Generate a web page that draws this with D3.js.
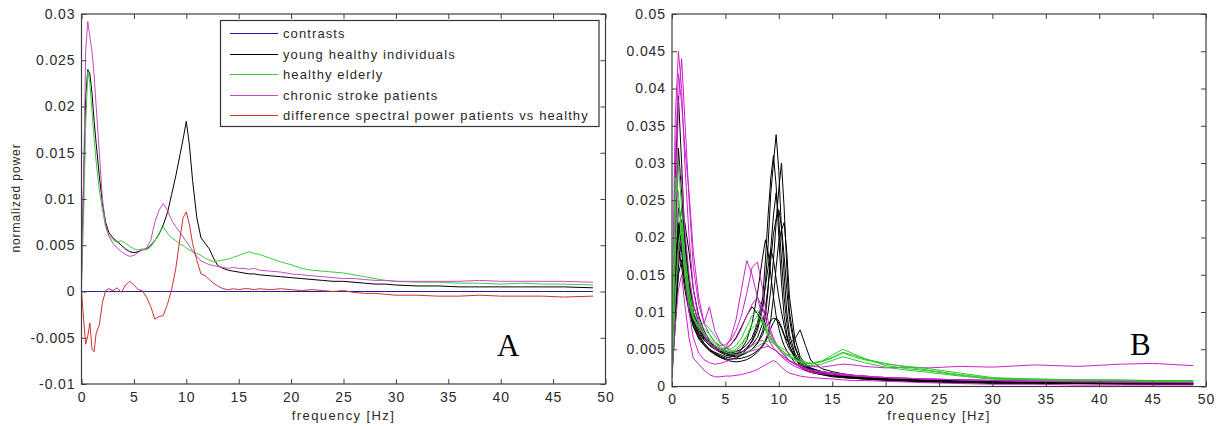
<!DOCTYPE html>
<html>
<head>
<meta charset="utf-8">
<script src="https://cdn.jsdelivr.net/npm/d3@7/dist/d3.min.js"></script>
<style>
  body { margin: 0; background: #fff; }
  svg { display: block; font-family: "Liberation Sans", Arial, sans-serif; }
</style>
</head>
<body>
<svg id="chart" width="1218" height="429"></svg>
<script>
// ---------- Panel A: group averages (normalized power vs frequency) ----------
const freqA = [0, 0.2, 0.4, 0.6, 0.8, 1.0, 1.2, 1.4, 1.7, 2.0, 2.3, 2.6, 3.0, 3.4, 3.8, 4.2, 4.6, 5.0, 5.4, 5.8,
  6.2, 6.6, 7.0, 7.4, 7.8, 8.2, 8.6, 9.0, 9.4, 9.7, 10.0, 10.3, 10.6, 11.0, 11.4, 11.8, 12.2, 12.6, 13.0, 13.5,
  14, 14.5, 15, 15.5, 16, 16.5, 17, 18, 19, 20, 21, 22, 23, 24, 25, 26, 27, 28, 29, 30,
  32, 34, 36, 38, 40, 42, 44, 46, 48.8];

const contrastsA = freqA.map(() => 0);

const youngA = [0.002, 0.012, 0.021, 0.0240, 0.0235, 0.0215, 0.0185, 0.0160, 0.0125, 0.0095, 0.0075, 0.0064, 0.0058, 0.0054, 0.0050, 0.0046, 0.0043, 0.0042, 0.0043, 0.0045,
  0.0046, 0.0050, 0.0055, 0.0062, 0.0072, 0.0085, 0.0105, 0.0125, 0.0148, 0.0165, 0.0184, 0.0158, 0.0120, 0.0080, 0.0058, 0.0052, 0.0046, 0.0036, 0.0028, 0.0025,
  0.0023, 0.0022, 0.0021, 0.0020, 0.0019, 0.0019, 0.0018, 0.0017, 0.0016, 0.0015, 0.0014, 0.0013, 0.0012, 0.0011, 0.0011, 0.0010, 0.0009, 0.0008, 0.0008, 0.0007,
  0.0006, 0.0006, 0.0005, 0.0005, 0.0005, 0.0005, 0.0005, 0.0005, 0.0004];

const elderlyA = [0.001, 0.008, 0.018, 0.0238, 0.0225, 0.0195, 0.0165, 0.0140, 0.0110, 0.0088, 0.0070, 0.0061, 0.0056, 0.0053, 0.0055, 0.0052, 0.0049, 0.0046, 0.0045, 0.0046,
  0.0045, 0.0048, 0.0055, 0.0063, 0.0070, 0.0063, 0.0058, 0.0055, 0.0051, 0.0050, 0.0047, 0.0045, 0.0043, 0.0041, 0.0039, 0.0036, 0.0034, 0.0032, 0.0033, 0.0034,
  0.0035, 0.0037, 0.0039, 0.0041, 0.0043, 0.0041, 0.0040, 0.0036, 0.0032, 0.0029, 0.0025, 0.0023, 0.0022, 0.0021, 0.0020, 0.0018, 0.0016, 0.0014, 0.0012, 0.0011,
  0.0010, 0.0010, 0.0009, 0.0009, 0.0008, 0.0009, 0.0008, 0.0008, 0.0007];

const strokeA = [0.0005, 0.012, 0.026, 0.0292, 0.0275, 0.0260, 0.0235, 0.0200, 0.0150, 0.0100, 0.0072, 0.0060, 0.0052, 0.0047, 0.0043, 0.0040, 0.0038, 0.0039, 0.0042, 0.0045,
  0.0047, 0.0055, 0.0075, 0.0088, 0.0095, 0.0088, 0.0077, 0.0070, 0.0064, 0.0059, 0.0054, 0.0049, 0.0044, 0.0038, 0.0033, 0.0031, 0.0029, 0.0028, 0.0027, 0.0026,
  0.0025, 0.0026, 0.0025, 0.0025, 0.0024, 0.0025, 0.0023, 0.0022, 0.0021, 0.0019, 0.0018, 0.0017, 0.0016, 0.0015, 0.0014, 0.0014, 0.0013, 0.0012, 0.0012, 0.0011,
  0.0011, 0.0011, 0.0011, 0.0012, 0.0011, 0.0011, 0.0011, 0.0011, 0.0010];

const differenceA = [0.0000, -0.0030, -0.0057, -0.0048, -0.0034, -0.0062, -0.0065, -0.0045, -0.0036, -0.0012, 0.0001, 0.0003, 0.0001, 0.0004, -0.0001, 0.0007, 0.0011, 0.0007, 0.0002, 0.0001,
  -0.0006, -0.0016, -0.0030, -0.0027, -0.0026, -0.0014, 0.0002, 0.0025, 0.0058, 0.0080, 0.0086, 0.0072, 0.0052, 0.0034, 0.0019, 0.0017, 0.0013, 0.0009, 0.0006, 0.0003,
  0.0002, 0.0003, 0.0002, 0.0003, 0.0003, 0.0002, 0.0003, 0.0002, 0.0003, 0.0002, 0.0001, 0.0002, 0.0001, 0.0000, 0.0001, -0.0001, -0.0002, -0.0002, -0.0003, -0.0004,
  -0.0004, -0.0005, -0.0005, -0.0004, -0.0005, -0.0005, -0.0005, -0.0006, -0.0005];

const legendLabels = ["contrasts", "young healthy individuals", "healthy elderly", "chronic stroke patients",
  "difference spectral power patients vs healthy"];

const xTicks = [0, 5, 10, 15, 20, 25, 30, 35, 40, 45, 50];
const xTickLabels = ["0", "5", "10", "15", "20", "25", "30", "35", "40", "45", "50"];
const yTicksA = [-0.01, -0.005, 0, 0.005, 0.01, 0.015, 0.02, 0.025, 0.03];
const yTickLabelsA = ["-0.01", "-0.005", "0", "0.005", "0.01", "0.015", "0.02", "0.025", "0.03"];

// ---------- Panel B: individual subjects ----------
const freqB = [0, 0.3, 0.6, 0.9, 1.2, 1.6, 2, 2.5, 3, 3.5, 4, 4.5, 5, 5.5, 6, 6.5, 7, 7.5, 8, 8.5,
  8.75, 9, 9.25, 9.5, 9.75, 10, 10.25, 10.5, 10.75, 11, 11.5, 12, 12.5, 13, 14, 15, 16, 17, 18, 20,
  22, 24, 27, 30, 34, 38, 42, 45, 48.8];

const youngB = [
  [0.004, 0.015, 0.024, 0.022, 0.018, 0.013, 0.010, 0.0078, 0.0065, 0.0058, 0.0052, 0.0047, 0.0044, 0.0042, 0.0043, 0.0046, 0.0052, 0.0060, 0.0075, 0.0105,
   0.0140, 0.0190, 0.0260, 0.0300, 0.0338, 0.0290, 0.0210, 0.0150, 0.0100, 0.0070, 0.0045, 0.0032, 0.0026, 0.0022, 0.0018, 0.0015, 0.0013, 0.0012, 0.0011, 0.0009,
   0.0008, 0.0007, 0.0006, 0.0005, 0.0005, 0.0004, 0.0004, 0.0004, 0.0004],
  [0.006, 0.028, 0.039, 0.030, 0.020, 0.014, 0.011, 0.0085, 0.0070, 0.0060, 0.0054, 0.0050, 0.0046, 0.0045, 0.0047, 0.0050, 0.0056, 0.0066, 0.0085, 0.0120,
   0.0170, 0.0230, 0.0280, 0.0310, 0.0270, 0.0200, 0.0140, 0.0095, 0.0070, 0.0055, 0.0038, 0.0028, 0.0022, 0.0019, 0.0016, 0.0013, 0.0012, 0.0011, 0.0010, 0.0008,
   0.0007, 0.0006, 0.0005, 0.0004, 0.0004, 0.0004, 0.0003, 0.0003, 0.0003],
  [0.003, 0.020, 0.032, 0.026, 0.019, 0.013, 0.0095, 0.0075, 0.0063, 0.0055, 0.0050, 0.0046, 0.0042, 0.0041, 0.0040, 0.0042, 0.0045, 0.0050, 0.0058, 0.0070,
   0.0082, 0.0100, 0.0130, 0.0170, 0.0220, 0.0265, 0.0300, 0.0240, 0.0160, 0.0100, 0.0055, 0.0035, 0.0027, 0.0023, 0.0019, 0.0016, 0.0014, 0.0012, 0.0011, 0.0009,
   0.0008, 0.0007, 0.0006, 0.0005, 0.0004, 0.0004, 0.0004, 0.0003, 0.0003],
  [0.002, 0.008, 0.016, 0.020, 0.022, 0.018, 0.013, 0.0095, 0.0075, 0.0062, 0.0055, 0.0050, 0.0047, 0.0045, 0.0044, 0.0046, 0.0050, 0.0056, 0.0066, 0.0085,
   0.0105, 0.0135, 0.0170, 0.0205, 0.0225, 0.0237, 0.0215, 0.0175, 0.0130, 0.0090, 0.0052, 0.0036, 0.0029, 0.0024, 0.0020, 0.0017, 0.0015, 0.0013, 0.0012, 0.0010,
   0.0009, 0.0008, 0.0007, 0.0006, 0.0005, 0.0005, 0.0004, 0.0004, 0.0004],
  [0.003, 0.014, 0.021, 0.019, 0.015, 0.011, 0.0085, 0.0068, 0.0058, 0.0050, 0.0045, 0.0041, 0.0038, 0.0040, 0.0043, 0.0050, 0.0062, 0.0085, 0.0125, 0.0175,
   0.0197, 0.0180, 0.0150, 0.0120, 0.0095, 0.0078, 0.0065, 0.0055, 0.0048, 0.0042, 0.0032, 0.0026, 0.0022, 0.0019, 0.0016, 0.0014, 0.0012, 0.0011, 0.0010, 0.0009,
   0.0008, 0.0007, 0.0006, 0.0005, 0.0005, 0.0004, 0.0004, 0.0004, 0.0003],
  [0.002, 0.010, 0.018, 0.021, 0.017, 0.012, 0.0090, 0.0070, 0.0058, 0.0050, 0.0046, 0.0043, 0.0040, 0.0038, 0.0037, 0.0038, 0.0040, 0.0043, 0.0048, 0.0056,
   0.0062, 0.0072, 0.0090, 0.0120, 0.0160, 0.0195, 0.0210, 0.0220, 0.0180, 0.0120, 0.0065, 0.0040, 0.0030, 0.0025, 0.0020, 0.0017, 0.0015, 0.0013, 0.0012, 0.0010,
   0.0009, 0.0008, 0.0007, 0.0006, 0.0005, 0.0005, 0.0004, 0.0004, 0.0004],
  [0.002, 0.009, 0.015, 0.017, 0.014, 0.011, 0.0088, 0.0072, 0.0062, 0.0056, 0.0052, 0.0049, 0.0050, 0.0056, 0.0066, 0.0080, 0.0095, 0.0107, 0.0098, 0.0085,
   0.0080, 0.0083, 0.0088, 0.0092, 0.0090, 0.0085, 0.0078, 0.0068, 0.0058, 0.0050, 0.0040, 0.0033, 0.0028, 0.0024, 0.0020, 0.0018, 0.0016, 0.0014, 0.0013, 0.0011,
   0.0010, 0.0009, 0.0008, 0.0007, 0.0006, 0.0006, 0.0005, 0.0005, 0.0005],
  [0.003, 0.012, 0.019, 0.016, 0.013, 0.010, 0.0080, 0.0064, 0.0055, 0.0048, 0.0043, 0.0039, 0.0036, 0.0034, 0.0033, 0.0034, 0.0036, 0.0040, 0.0046, 0.0054,
   0.0060, 0.0068, 0.0078, 0.0086, 0.0092, 0.0088, 0.0080, 0.0070, 0.0062, 0.0058, 0.0064, 0.0076, 0.0055, 0.0035, 0.0024, 0.0020, 0.0017, 0.0015, 0.0013, 0.0011,
   0.0010, 0.0009, 0.0008, 0.0007, 0.0006, 0.0005, 0.0005, 0.0005, 0.0004],
  [0.002, 0.011, 0.020, 0.024, 0.020, 0.014, 0.010, 0.0080, 0.0066, 0.0058, 0.0052, 0.0048, 0.0045, 0.0043, 0.0042, 0.0043, 0.0046, 0.0050, 0.0058, 0.0075,
   0.0095, 0.0130, 0.0185, 0.0230, 0.0260, 0.0225, 0.0170, 0.0120, 0.0085, 0.0062, 0.0042, 0.0030, 0.0024, 0.0021, 0.0018, 0.0015, 0.0013, 0.0012, 0.0011, 0.0009,
   0.0008, 0.0007, 0.0006, 0.0005, 0.0004, 0.0004, 0.0004, 0.0003, 0.0003],
  [0.003, 0.013, 0.022, 0.018, 0.014, 0.0105, 0.0082, 0.0066, 0.0056, 0.0049, 0.0044, 0.0040, 0.0037, 0.0036, 0.0038, 0.0042, 0.0050, 0.0062, 0.0080, 0.0110,
   0.0135, 0.0160, 0.0185, 0.0170, 0.0145, 0.0120, 0.0100, 0.0082, 0.0066, 0.0054, 0.0040, 0.0030, 0.0025, 0.0021, 0.0017, 0.0015, 0.0013, 0.0012, 0.0011, 0.0009,
   0.0008, 0.0007, 0.0006, 0.0005, 0.0004, 0.0004, 0.0004, 0.0003, 0.0003]
];

const elderlyB = [
  [0.004, 0.028, 0.026, 0.020, 0.015, 0.011, 0.0090, 0.0080, 0.0085, 0.0078, 0.0068, 0.0058, 0.0052, 0.0050, 0.0055, 0.0065, 0.0080, 0.0095, 0.0102, 0.0088,
   0.0078, 0.0070, 0.0064, 0.0060, 0.0057, 0.0054, 0.0052, 0.0050, 0.0047, 0.0044, 0.0040, 0.0036, 0.0033, 0.0031, 0.0034, 0.0042, 0.0050, 0.0044, 0.0038, 0.0028,
   0.0024, 0.0021, 0.0015, 0.0010, 0.0009, 0.0008, 0.0008, 0.0008, 0.0007],
  [0.002, 0.012, 0.019, 0.022, 0.017, 0.012, 0.0095, 0.0080, 0.0072, 0.0065, 0.0058, 0.0052, 0.0048, 0.0046, 0.0048, 0.0055, 0.0068, 0.0085, 0.0095, 0.0085,
   0.0076, 0.0068, 0.0062, 0.0058, 0.0055, 0.0052, 0.0049, 0.0046, 0.0043, 0.0040, 0.0036, 0.0033, 0.0031, 0.0030, 0.0033, 0.0038, 0.0045, 0.0040, 0.0036, 0.0030,
   0.0027, 0.0024, 0.0018, 0.0012, 0.0010, 0.0009, 0.0009, 0.0008, 0.0008],
  [0.003, 0.018, 0.025, 0.021, 0.016, 0.012, 0.0092, 0.0078, 0.0070, 0.0062, 0.0055, 0.0050, 0.0046, 0.0044, 0.0043, 0.0044, 0.0046, 0.0050, 0.0054, 0.0058,
   0.0060, 0.0061, 0.0060, 0.0058, 0.0055, 0.0052, 0.0049, 0.0046, 0.0043, 0.0041, 0.0037, 0.0034, 0.0032, 0.0031, 0.0034, 0.0039, 0.0046, 0.0042, 0.0037, 0.0031,
   0.0026, 0.0022, 0.0016, 0.0011, 0.0010, 0.0009, 0.0008, 0.0008, 0.0008],
  [0.005, 0.024, 0.030, 0.024, 0.018, 0.013, 0.010, 0.0085, 0.0078, 0.0070, 0.0060, 0.0053, 0.0049, 0.0047, 0.0050, 0.0058, 0.0068, 0.0078, 0.0085, 0.0088,
   0.0082, 0.0074, 0.0066, 0.0060, 0.0055, 0.0051, 0.0047, 0.0044, 0.0042, 0.0040, 0.0036, 0.0032, 0.0029, 0.0028, 0.0030, 0.0035, 0.0040, 0.0036, 0.0032, 0.0026,
   0.0022, 0.0019, 0.0014, 0.0010, 0.0009, 0.0008, 0.0008, 0.0007, 0.0007]
];

const strokeB = [
  [0.008, 0.036, 0.045, 0.040, 0.030, 0.020, 0.013, 0.0090, 0.0070, 0.0058, 0.0050, 0.0048, 0.0052, 0.0065, 0.0090, 0.0130, 0.0169, 0.0150, 0.0120, 0.0090,
   0.0078, 0.0066, 0.0058, 0.0052, 0.0048, 0.0044, 0.0040, 0.0037, 0.0034, 0.0031, 0.0027, 0.0024, 0.0021, 0.0019, 0.0017, 0.0016, 0.0015, 0.0014, 0.0013, 0.0012,
   0.0011, 0.0010, 0.0009, 0.0008, 0.0007, 0.0007, 0.0006, 0.0006, 0.0006],
  [0.004, 0.022, 0.038, 0.044, 0.036, 0.025, 0.016, 0.011, 0.0085, 0.0070, 0.0060, 0.0055, 0.0056, 0.0062, 0.0075, 0.0095, 0.0125, 0.0160, 0.0167, 0.0130,
   0.0105, 0.0088, 0.0075, 0.0065, 0.0058, 0.0052, 0.0047, 0.0043, 0.0039, 0.0035, 0.0030, 0.0026, 0.0023, 0.0021, 0.0019, 0.0017, 0.0016, 0.0015, 0.0014, 0.0012,
   0.0011, 0.0010, 0.0009, 0.0008, 0.0007, 0.0007, 0.0006, 0.0006, 0.0005],
  [0.003, 0.030, 0.042, 0.038, 0.032, 0.026, 0.018, 0.012, 0.0085, 0.0107, 0.0075, 0.0060, 0.0052, 0.0048, 0.0046, 0.0047, 0.0050, 0.0055, 0.0060, 0.0062,
   0.0058, 0.0055, 0.0052, 0.0050, 0.0048, 0.0045, 0.0042, 0.0040, 0.0037, 0.0034, 0.0030, 0.0027, 0.0024, 0.0022, 0.0020, 0.0018, 0.0016, 0.0015, 0.0014, 0.0012,
   0.0011, 0.0010, 0.0009, 0.0008, 0.0008, 0.0007, 0.0007, 0.0007, 0.0006],
  [0.001, 0.008, 0.013, 0.015, 0.011, 0.0065, 0.0038, 0.0030, 0.0022, 0.0016, 0.0013, 0.0013, 0.0014, 0.0014, 0.0015, 0.0016, 0.0018, 0.0020, 0.0023, 0.0027,
   0.0029, 0.0031, 0.0033, 0.0035, 0.0033, 0.0030, 0.0026, 0.0023, 0.0020, 0.0018, 0.0016, 0.0014, 0.0013, 0.0012, 0.0011, 0.0010, 0.0009, 0.0008, 0.0008, 0.0007,
   0.0006, 0.0005, 0.0004, 0.0003, 0.0003, 0.0002, 0.0002, 0.0002, 0.0002],
  [0.002, 0.012, 0.018, 0.020, 0.015, 0.010, 0.0065, 0.0045, 0.0036, 0.0032, 0.0030, 0.0031, 0.0033, 0.0036, 0.0040, 0.0044, 0.0046, 0.0048, 0.0050, 0.0052,
   0.0053, 0.0054, 0.0052, 0.0050, 0.0048, 0.0045, 0.0042, 0.0039, 0.0036, 0.0034, 0.0031, 0.0029, 0.0028, 0.0027, 0.0026, 0.0028, 0.0030, 0.0029, 0.0027, 0.0025,
   0.0026, 0.0025, 0.0027, 0.0026, 0.0029, 0.0027, 0.0030, 0.0031, 0.0028],
  [0.003, 0.018, 0.030, 0.028, 0.021, 0.015, 0.011, 0.0085, 0.0068, 0.0058, 0.0052, 0.0050, 0.0051, 0.0056, 0.0064, 0.0078, 0.0095, 0.0110, 0.0120, 0.0105,
   0.0092, 0.0080, 0.0070, 0.0062, 0.0055, 0.0050, 0.0046, 0.0042, 0.0038, 0.0035, 0.0031, 0.0027, 0.0024, 0.0022, 0.0020, 0.0018, 0.0017, 0.0015, 0.0014, 0.0012,
   0.0011, 0.0010, 0.0009, 0.0008, 0.0007, 0.0006, 0.0006, 0.0006, 0.0005]
];

const yTicksB = [0, 0.005, 0.01, 0.015, 0.02, 0.025, 0.03, 0.035, 0.04, 0.045, 0.05];
const yTickLabelsB = ["0", "0.005", "0.01", "0.015", "0.02", "0.025", "0.03", "0.035", "0.04", "0.045", "0.05"];

// ---------- drawing ----------
const svg = d3.select("#chart");
const defs = svg.append("defs");
const AXIS = "#404040";
const TEXT = "#2a2a2a";

function drawPanel(p) {
  const x = d3.scaleLinear().domain([0, 50]).range([p.left, p.right]);
  const y = d3.scaleLinear().domain(p.yDomain).range([p.bottom, p.top]);

  defs.append("clipPath").attr("id", p.id + "-clip")
    .append("rect").attr("x", p.left).attr("y", p.top)
    .attr("width", p.right - p.left).attr("height", p.bottom - p.top);

  const plot = svg.append("g").attr("clip-path", `url(#${p.id}-clip)`);
  p.series.forEach(s => {
    const line = d3.line().x((d, i) => x(p.freq[i])).y(d => y(d));
    plot.append("path").attr("d", line(s.values))
      .attr("fill", "none").attr("stroke", s.color).attr("stroke-width", s.width || 1)
      .attr("stroke-linejoin", "round");
  });

  const styleAxis = g => {
    g.select(".domain").remove();
    g.selectAll(".tick line").attr("stroke", AXIS);
    g.selectAll(".tick text").attr("fill", TEXT).style("font-size", "14px").style("letter-spacing", "0.9px");
  };

  svg.append("g").attr("transform", `translate(0,${p.bottom})`)
    .call(d3.axisBottom(x).tickValues(xTicks).tickFormat((d, i) => xTickLabels[i])
      .tickSizeInner(-5).tickSizeOuter(0).tickPadding(8)).call(styleAxis);
  svg.append("g").attr("transform", `translate(0,${p.top})`)
    .call(d3.axisTop(x).tickValues(xTicks).tickFormat("").tickSizeInner(-5).tickSizeOuter(0)).call(styleAxis);
  svg.append("g").attr("transform", `translate(${p.left},0)`)
    .call(d3.axisLeft(y).tickValues(p.yTicks).tickFormat((d, i) => p.yTickLabels[i])
      .tickSizeInner(-5).tickSizeOuter(0).tickPadding(6)).call(styleAxis);
  svg.append("g").attr("transform", `translate(${p.right},0)`)
    .call(d3.axisRight(y).tickValues(p.yTicks).tickFormat("").tickSizeInner(-5).tickSizeOuter(0)).call(styleAxis);

  svg.append("rect").attr("x", p.left).attr("y", p.top)
    .attr("width", p.right - p.left).attr("height", p.bottom - p.top)
    .attr("fill", "none").attr("stroke", AXIS).attr("stroke-width", 1.2);

  svg.append("text").attr("x", (p.left + p.right) / 2).attr("y", 420)
    .attr("text-anchor", "middle").attr("fill", TEXT)
    .style("font-size", "13px").style("letter-spacing", "1.4px")
    .text("frequency [Hz]");

  svg.append("text").attr("x", p.tagX).attr("y", p.tagY)
    .attr("fill", "#000").style("font-family", "'Liberation Serif', 'Times New Roman', serif")
    .style("font-size", "31px").text(p.tag);
  return { x, y };
}

const colA = { contrasts: "#1a1aa6", young: "#000000", elderly: "#3ccc3c", stroke: "#c44cc4", diff: "#d03030" };

drawPanel({
  id: "pa", left: 81.5, right: 605.5, top: 14, bottom: 384,
  yDomain: [-0.01, 0.03], yTicks: yTicksA, yTickLabels: yTickLabelsA, freq: freqA,
  tag: "A", tagX: 497, tagY: 356,
  series: [
    { values: contrastsA, color: colA.contrasts },
    { values: youngA, color: colA.young },
    { values: elderlyA, color: colA.elderly },
    { values: strokeA, color: colA.stroke },
    { values: differenceA, color: colA.diff }
  ]
});

svg.append("text")
  .attr("transform", "translate(20,198) rotate(-90)")
  .attr("text-anchor", "middle").attr("fill", TEXT)
  .style("font-size", "12px").style("letter-spacing", "0.9px")
  .text("normalized power");

// legend for panel A
const legend = svg.append("g");
legend.append("rect").attr("x", 220.5).attr("y", 20.5).attr("width", 378.5).attr("height", 106)
  .attr("fill", "#fff").attr("stroke", "#333").attr("stroke-width", 1.2);
const legendColors = [colA.contrasts, colA.young, colA.elderly, colA.stroke, colA.diff];
const legendRows = [33.5, 54.5, 74.5, 95.5, 115.5];
legendLabels.forEach((lab, i) => {
  const yy = legendRows[i];
  legend.append("line").attr("x1", 230).attr("x2", 278).attr("y1", yy).attr("y2", yy)
    .attr("stroke", legendColors[i]).attr("stroke-width", 1);
  legend.append("text").attr("x", 283).attr("y", yy).attr("dy", "0.35em")
    .attr("fill", TEXT).style("font-size", "13px").style("letter-spacing", "1.1px").text(lab);
});

const seriesB = [];
youngB.forEach(v => seriesB.push({ values: v, color: "#000000" }));
strokeB.forEach(v => seriesB.push({ values: v, color: "#cc22cc" }));
elderlyB.forEach(v => seriesB.push({ values: v, color: "#30c830" }));

drawPanel({
  id: "pb", left: 672, right: 1206, top: 14, bottom: 386.5,
  yDomain: [0, 0.05], yTicks: yTicksB, yTickLabels: yTickLabelsB, freq: freqB,
  tag: "B", tagX: 1130, tagY: 355,
  series: seriesB
});
</script>
</body>
</html>
